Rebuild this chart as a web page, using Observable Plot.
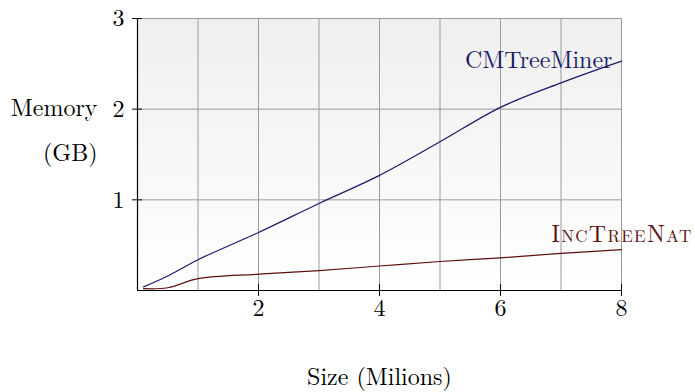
<!DOCTYPE html>
<html>
<head>
<meta charset="utf-8">
<script src="https://cdn.jsdelivr.net/npm/d3@7"></script>
<script src="https://cdn.jsdelivr.net/npm/@observablehq/plot@0.6"></script>
<style>
  html, body { margin: 0; padding: 0; background: #fff; }
</style>
</head>
<body>
<div id="chart"></div>
<script>
const sizes = [0.1, 0.5, 1, 2, 3, 4, 5, 6, 7, 8];
const cmTreeMiner = [0.04, 0.16, 0.34, 0.64, 0.96, 1.27, 1.64, 2.02, 2.29, 2.53];
const incTreeNat = [0.02, 0.03, 0.13, 0.18, 0.22, 0.27, 0.32, 0.36, 0.41, 0.45];
const xTicks = [2, 4, 6, 8];
const yTicks = [1, 2, 3];
const xGrid = [1, 2, 3, 4, 5, 6, 7, 8];
const seriesNames = ["CMTreeMiner", "IncTreeNat"];
const seriesColors = ["#1b1b68", "#5c1010"];

const cmData = sizes.map((s, i) => ({x: s, y: cmTreeMiner[i]}));
const incData = sizes.map((s, i) => ({x: s, y: incTreeNat[i]}));

const font = "Latin Modern Roman, Liberation Serif, serif";

const chart = Plot.plot({
  width: 695,
  height: 392,
  marginLeft: 137,
  marginRight: 74,
  marginTop: 18,
  marginBottom: 102,
  style: {fontFamily: font, fontSize: "24px", background: "#fff", overflow: "visible"},
  x: {domain: [0, 8]},
  y: {domain: [0, 3]},
  marks: [
    Plot.frame({fill: "url(#bggrad)", stroke: null}),
    Plot.ruleX(xGrid, {stroke: "#9a9a9a", strokeWidth: 1}),
    Plot.ruleY(yTicks, {stroke: "#9a9a9a", strokeWidth: 1}),
    Plot.line(cmData, {x: "x", y: "y", stroke: seriesColors[0], strokeWidth: 1.2, curve: "catmull-rom"}),
    Plot.line(incData, {x: "x", y: "y", stroke: seriesColors[1], strokeWidth: 1.2, curve: "catmull-rom"}),
    Plot.ruleX([0], {stroke: "#000", strokeWidth: 1.2}),
    Plot.ruleY([0], {stroke: "#000", strokeWidth: 1.2}),
    Plot.axisX({ticks: xTicks, tickFormat: d3.format("d"), tickSize: 12, dy: -6, tickPadding: 2, label: null, fontSize: 24, fontFamily: font}),
    Plot.axisY({ticks: yTicks, tickFormat: d3.format("d"), tickSize: 10, dx: 5, tickPadding: 8, label: null, fontSize: 24, fontFamily: font}),
    Plot.text([seriesNames[0]], {x: 8, y: 2.45, dx: -9, text: d => d, textAnchor: "end", lineAnchor: "bottom", fill: seriesColors[0], fontSize: 24, fontFamily: font}),
    Plot.text([seriesNames[1]], {x: 8, y: 0.54, dx: 71, text: d => d, textAnchor: "end", lineAnchor: "bottom", fill: seriesColors[1], fontSize: 24, fontVariant: "small-caps", fontFamily: font, className: "smallcaps-label"}),
    Plot.text(["Memory"], {frameAnchor: "left", dx: -40, dy: -39, text: d => d, textAnchor: "end", lineAnchor: "bottom", fontSize: 24, fontFamily: font}),
    Plot.text(["(GB)"], {frameAnchor: "left", dx: -40, dy: 6, text: d => d, textAnchor: "end", lineAnchor: "bottom", fontSize: 24, fontFamily: font}),
    Plot.text(["Size (Milions)"], {frameAnchor: "bottom", dy: 94, text: d => d, textAnchor: "middle", lineAnchor: "bottom", fontSize: 24, fontFamily: font})
  ]
});

const svg = d3.select(chart);
svg.selectAll(".smallcaps-label text").style("letter-spacing", "1.3px");
const defs = svg.insert("defs", ":first-child");
const grad = defs.append("linearGradient").attr("id", "bggrad").attr("x1", 0).attr("y1", 0).attr("x2", 0).attr("y2", 1);
grad.append("stop").attr("offset", "0%").attr("stop-color", "#efefef");
grad.append("stop").attr("offset", "100%").attr("stop-color", "#ffffff");

document.getElementById("chart").appendChild(chart);
</script>
</body>
</html>
